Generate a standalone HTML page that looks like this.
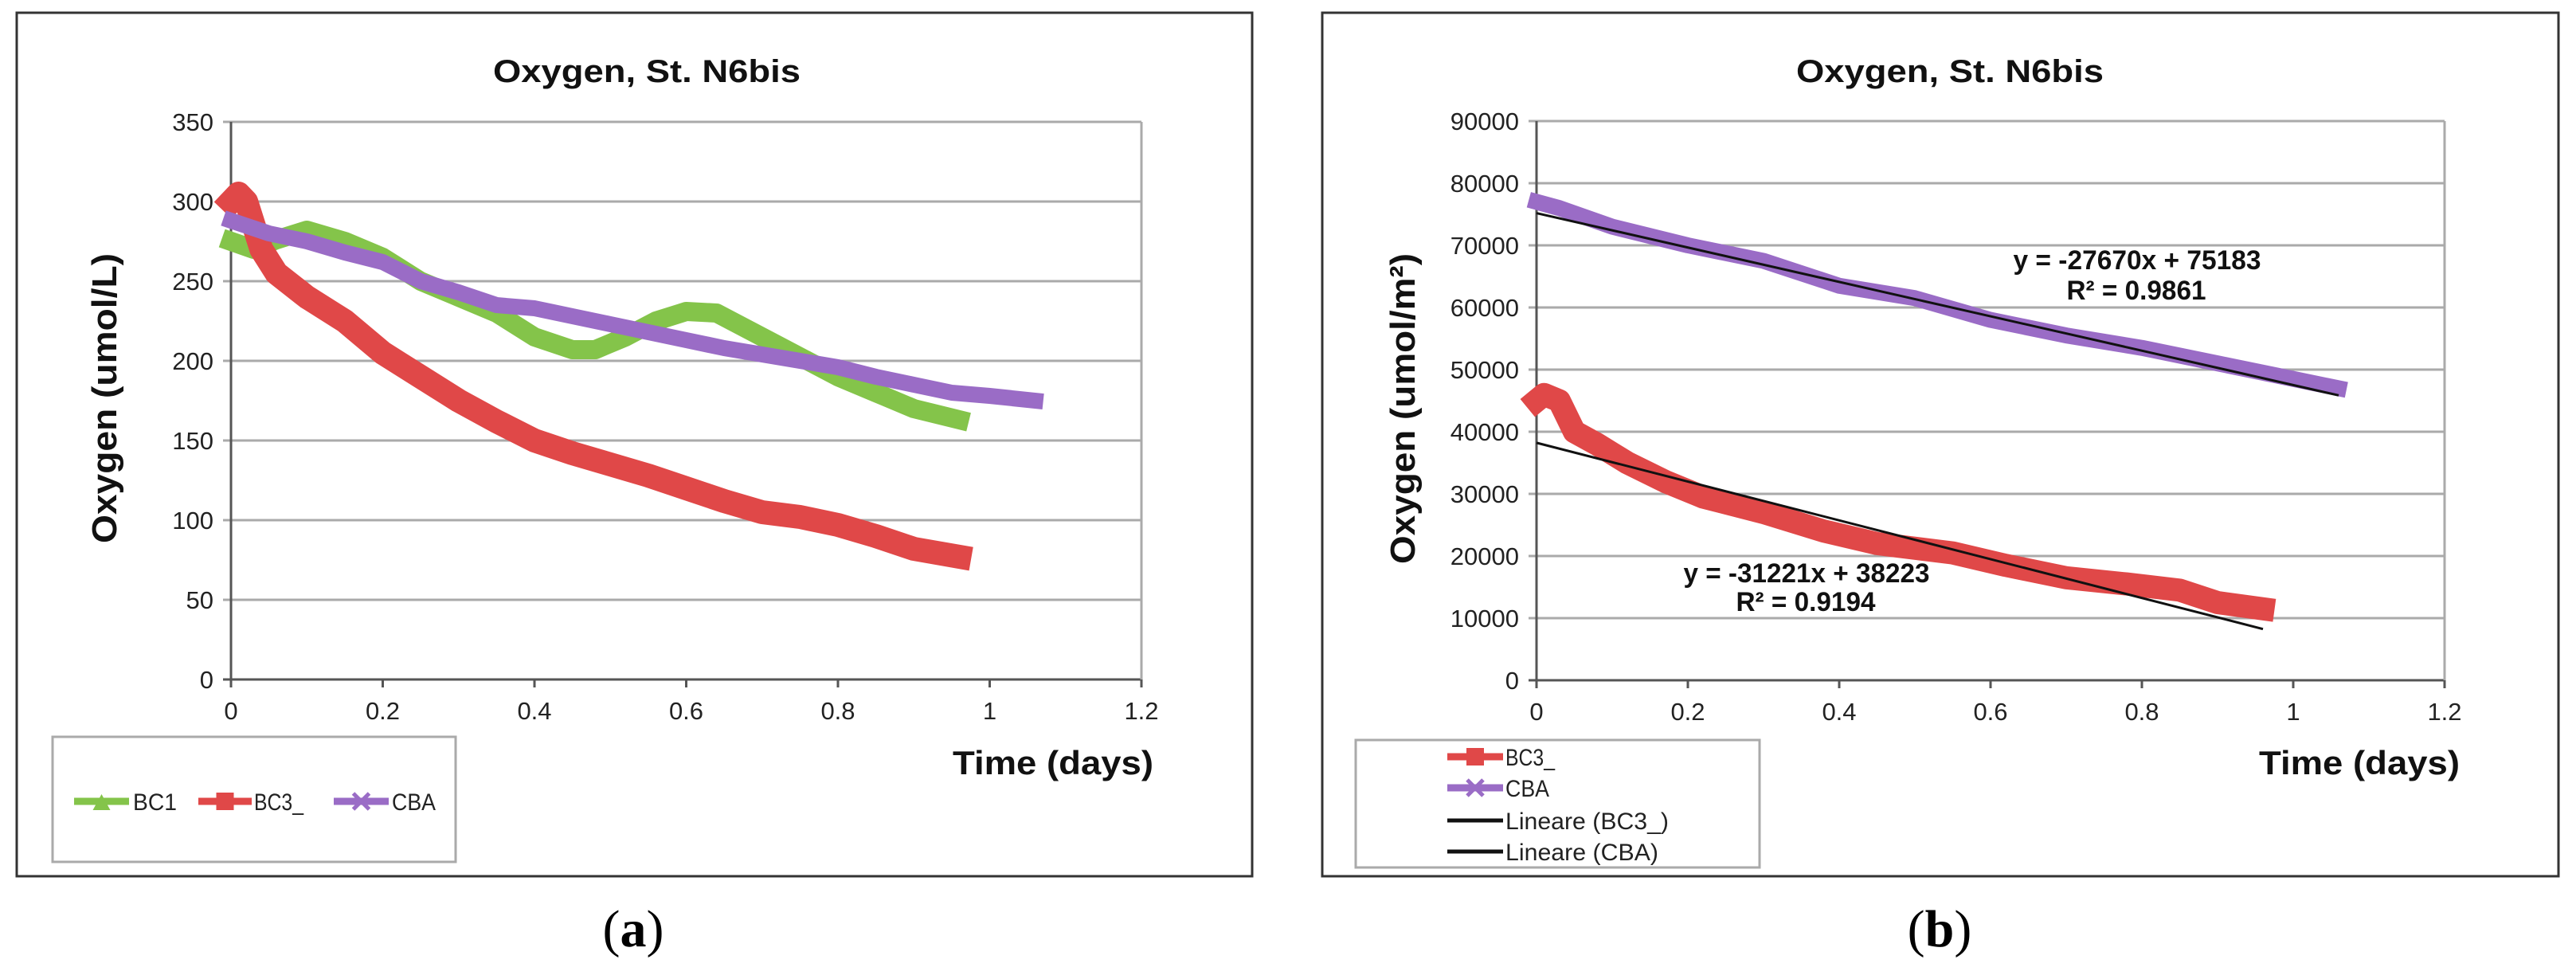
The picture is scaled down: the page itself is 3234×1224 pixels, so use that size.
<!DOCTYPE html>
<html><head><meta charset="utf-8"><style>
html,body{margin:0;padding:0;background:#fff;}
svg{display:block;font-family:"Liberation Sans",Arial,sans-serif;}
</style></head><body>
<svg id="fig" width="3234" height="1224" viewBox="0 0 3234 1224" xmlns="http://www.w3.org/2000/svg">
<rect x="21" y="16" width="1551" height="1084" fill="#fff" stroke="#333" stroke-width="3"/>
<rect x="1660" y="16" width="1552" height="1084" fill="#fff" stroke="#333" stroke-width="3"/>
<g id="pa"></g>
<g id="pb"></g>
<text x="795" y="1188" font-family="Liberation Serif,serif" font-size="66" text-anchor="middle">(<tspan font-weight="bold">a</tspan>)</text>
<text x="2435" y="1188" font-family="Liberation Serif,serif" font-size="66" text-anchor="middle">(<tspan font-weight="bold">b</tspan>)</text>
</svg>
<script>
// ---- data panel a ----
const aBC1X = [0,0.03,0.06,0.1,0.15,0.2,0.25,0.3,0.35,0.4,0.45,0.48,0.52,0.56,0.6,0.64,0.68,0.72,0.76,0.8,0.85,0.9,0.96];
const aBC1Y = [275,270,276,282,275,265,250,240,230,215,207,207,215,225,231,230,220,210,200,190,180,170,163];
const aBC3X = [0,0.01,0.02,0.04,0.06,0.1,0.15,0.2,0.25,0.3,0.35,0.4,0.45,0.5,0.55,0.6,0.65,0.7,0.75,0.8,0.85,0.9,0.96];
const aBC3Y = [300,305,300,270,255,240,225,205,190,175,162,150,142,135,128,120,112,105,102,97,90,82,77];
const aCBAX = [0,0.05,0.1,0.15,0.2,0.25,0.3,0.35,0.4,0.45,0.5,0.55,0.6,0.65,0.7,0.75,0.8,0.85,0.9,0.95,1.0,1.06];
const aCBAY = [288,280,275,268,262,250,243,235,233,228,223,218,213,208,204,200,196,190,185,180,178,175];
const aYTicks = [0,50,100,150,200,250,300,350];
const xTicks = [0,0.2,0.4,0.6,0.8,1,1.2];
// ---- data panel b ----
const bCBAX = [0,0.03,0.1,0.2,0.3,0.4,0.5,0.6,0.7,0.8,0.9,1.0,1.06];
const bCBAY = [77000,76000,73000,70000,67500,63500,61500,58000,55500,53500,51000,48500,47000];
const bBC3X = [0,0.01,0.03,0.05,0.08,0.12,0.17,0.22,0.3,0.38,0.45,0.55,0.62,0.7,0.78,0.85,0.9,0.96];
const bBC3Y = [45000,46000,45000,40000,38000,35000,32000,29500,27000,24000,22000,20500,18500,16500,15500,14500,12500,11500];
const bYTicks = [0,10000,20000,30000,40000,50000,60000,70000,80000,90000];
const trendCBA = [-27670,75183,0,1.06];
const trendBC3 = [-31221,38223,0,0.96];

const NS="http://www.w3.org/2000/svg";
function mk(p,tag,at,txt){const e=document.createElementNS(NS,tag);for(const k in at)e.setAttribute(k,at[k]);if(at.textLength)e.setAttribute('lengthAdjust','spacingAndGlyphs');if(txt!==undefined)e.textContent=txt;p.appendChild(e);return e;}

function axes(g,x0,x1,y0,y1,ymax,yt,prefix){
  const sx=v=>x0+(x1-x0)*v/1.2, sy=v=>y0-(y0-y1)*v/ymax;
  yt.forEach(v=>{
    const l=mk(g,'line',{x1:x0-10,x2:x1,y1:sy(v),y2:sy(v),stroke:v===0?'#555':'#aaa','stroke-width':3});
    
    
    const t=mk(g,'text',{x:x0-22,y:sy(v)+11,'font-size':31,'text-anchor':'end',fill:'#222'},String(v));
    
    
  });
  mk(g,'line',{x1:x1,x2:x1,y1:y1,y2:y0,stroke:'#aaa','stroke-width':3});
  mk(g,'line',{x1:x0,x2:x0,y1:y1,y2:y0,stroke:'#555','stroke-width':3});
  xTicks.forEach(v=>{
    mk(g,'line',{x1:sx(v),x2:sx(v),y1:y0,y2:y0+10,stroke:'#555','stroke-width':3});
    const t=mk(g,'text',{x:sx(v),y:y0+50,'font-size':31,'text-anchor':'middle',fill:'#222'},String(v));
    
    
  });
  return [sx,sy];
}
function series(g,xs,ys,sx,sy,color,w,name){
  const d=xs.map((x,i)=>(i?'L':'M')+sx(x).toFixed(1)+','+sy(ys[i]).toFixed(1)).join('');
  const p=mk(g,'path',{d:d,fill:'none',stroke:color,'stroke-width':w,'stroke-linejoin':'round','stroke-linecap':'square'});
  
  
  return p;
}
const RED='#e04848',GRN='#84c44a',PUR='#9a6cc6';

// panel a
const ga=document.getElementById('pa');
const [ax,ay]=axes(ga,290,1433,853,153,350,aYTicks,'a-');
series(ga,aBC1X,aBC1Y,ax,ay,GRN,24,'series-bc1');
series(ga,aBC3X,aBC3Y,ax,ay,RED,30,'series-bc3');
series(ga,aCBAX,aCBAY,ax,ay,PUR,20,'series-cba');
let t;
t=mk(ga,'text',{x:812,y:103,'font-size':40,'font-weight':'bold','text-anchor':'middle',textLength:386,fill:'#111'},'Oxygen, St. N6bis');

t=mk(ga,'text',{x:0,y:0,'font-size':44,'font-weight':'bold','text-anchor':'middle',textLength:364,transform:'translate(146,500) rotate(-90)',fill:'#111'},'Oxygen (umol/L)');

t=mk(ga,'text',{x:1196,y:972,'font-size':42,'font-weight':'bold',textLength:252,fill:'#111'},'Time (days)');

let lg=mk(ga,'g',{});

mk(lg,'rect',{x:66,y:925,width:506,height:157,fill:'#fff',stroke:'#aaa','stroke-width':3});
const la=[[93,162,167,GRN,'BC1','tri'],[249,316,319,RED,'BC3_','sq'],[419,488,492,PUR,'CBA','x']];
la.forEach(e=>{
  const ent=mk(lg,'g',{});
  
  mk(ent,'line',{x1:e[0],x2:e[1],y1:1006,y2:1006,stroke:e[3],'stroke-width':9});
  const cx=(e[0]+e[1])/2;
  if(e[5]==='tri')mk(ent,'polygon',{points:`${cx-11},1017 ${cx+11},1017 ${cx},997`,fill:e[3]});
  if(e[5]==='sq')mk(ent,'rect',{x:cx-11,y:995,width:22,height:22,fill:e[3]});
  if(e[5]==='x')mk(ent,'path',{d:`M${cx-10},996L${cx+10},1016M${cx+10},996L${cx-10},1016`,stroke:e[3],'stroke-width':5});
  mk(ent,'text',{x:e[2],y:1017,'font-size':30,textLength:e[4]==='BC3_'?62:55,fill:'#222'},e[4]);
});

// panel b
const gb=document.getElementById('pb');
const [bx,by]=axes(gb,1929,3069,854,152,90000,bYTicks,'b-');
series(gb,bBC3X,bBC3Y,bx,by,RED,29,'series-bc3-areal');
series(gb,bCBAX,bCBAY,bx,by,PUR,20,'series-cba-areal');
[[trendCBA,'trendline-cba'],[trendBC3,'trendline-bc3']].forEach(([tr,n])=>{
  const l=mk(gb,'line',{x1:bx(tr[2]),y1:by(tr[0]*tr[2]+tr[1]),x2:bx(tr[3]),y2:by(tr[0]*tr[3]+tr[1]),stroke:'#111','stroke-width':3});
  
});
t=mk(gb,'text',{x:2448,y:103,'font-size':40,'font-weight':'bold','text-anchor':'middle',textLength:386,fill:'#111'},'Oxygen, St. N6bis');

t=mk(gb,'text',{x:0,y:0,'font-size':44,'font-weight':'bold','text-anchor':'middle',textLength:390,transform:'translate(1776,513) rotate(-90)',fill:'#111'},'Oxygen (umol/m²)');

t=mk(gb,'text',{x:2836,y:972,'font-size':42,'font-weight':'bold',textLength:252,fill:'#111'},'Time (days)');

t=mk(gb,'text',{x:2683,y:338,'font-size':34,'font-weight':'bold','text-anchor':'middle',textLength:311,fill:'#111'},'y = -27670x + 75183');

t=mk(gb,'text',{x:2682,y:376,'font-size':34,'font-weight':'bold','text-anchor':'middle',textLength:175,fill:'#111'},'R² = 0.9861');

t=mk(gb,'text',{x:2268,y:731,'font-size':34,'font-weight':'bold','text-anchor':'middle',textLength:309,fill:'#111'},'y = -31221x + 38223');

t=mk(gb,'text',{x:2267,y:767,'font-size':34,'font-weight':'bold','text-anchor':'middle',textLength:175,fill:'#111'},'R² = 0.9194');

lg=mk(gb,'g',{});

mk(lg,'rect',{x:1702,y:929,width:507,height:160,fill:'#fff',stroke:'#aaa','stroke-width':3});
const lb=[[950,RED,'BC3_','sq',62],[989,PUR,'CBA','x',55],[1030,'#111','Lineare (BC3_)','',205],[1069,'#111','Lineare (CBA)','',192]];
lb.forEach(e=>{
  const ent=mk(lg,'g',{});
  
  mk(ent,'line',{x1:1817,x2:1887,y1:e[0],y2:e[0],stroke:e[1],'stroke-width':e[3]?9:5});
  if(e[3]==='sq')mk(ent,'rect',{x:1841,y:e[0]-11,width:22,height:22,fill:e[1]});
  if(e[3]==='x')mk(ent,'path',{d:`M1842,${e[0]-10}L1862,${e[0]+10}M1862,${e[0]-10}L1842,${e[0]+10}`,stroke:e[1],'stroke-width':5});
  mk(ent,'text',{x:1890,y:e[0]+11,'font-size':30,textLength:e[4],fill:'#222'},e[2]);
});
</script>
</body></html>
